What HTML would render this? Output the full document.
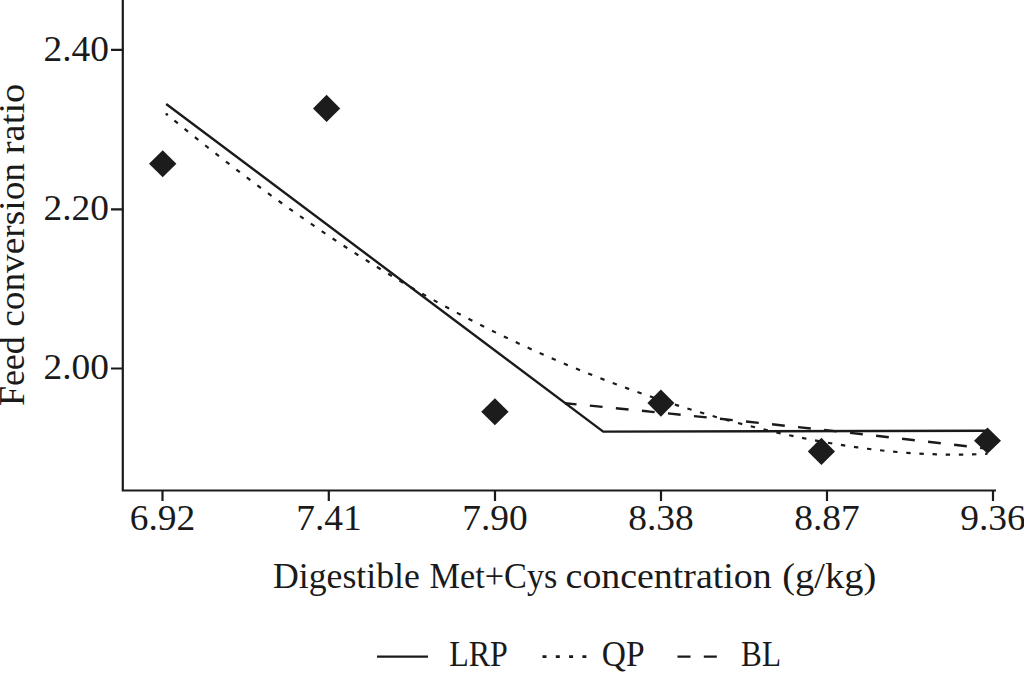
<!DOCTYPE html>
<html><head><meta charset="utf-8">
<style>
html,body{margin:0;padding:0;background:#fff;width:1024px;height:673px;overflow:hidden}
svg{display:block}
text{font-family:"Liberation Serif",serif;fill:#1a1a1a}
</style></head>
<body>
<svg width="1024" height="673" viewBox="0 0 1024 673">
<g stroke="#1a1a1a" stroke-width="2.2" fill="none">
<!-- axes -->
<path d="M122.8,0 V490.5 H996"/>
<!-- y ticks -->
<path d="M111,49.8 H122.8 M111,209.3 H122.8 M111,368.5 H122.8"/>
<!-- x ticks -->
<path d="M162.5,490 V501 M328.8,490 V501 M495,490 V501 M661,490 V501 M827,490 V501 M993,490 V501"/>
<!-- LRP solid -->
<path d="M166.2,104 L603.2,431.6 L987.5,430.8" stroke-width="2.4"/>
<!-- QP dotted -->
<polyline points="167.00,114.56 177.01,122.71 187.01,130.80 197.02,138.81 207.02,146.75 217.03,154.61 227.04,162.38 237.04,170.06 247.05,177.65 257.05,185.15 267.06,192.54 277.07,199.84 287.07,207.04 297.08,214.14 307.09,221.13 317.09,228.01 327.10,234.79 337.10,241.45 347.11,248.01 357.12,254.46 367.12,260.80 377.13,267.03 387.13,273.15 397.14,279.15 407.15,285.05 417.15,290.84 427.16,296.52 437.16,302.09 447.17,307.55 457.18,312.90 467.18,318.15 477.19,323.29 487.20,328.32 497.20,333.25 507.21,338.08 517.21,342.81 527.22,347.43 537.23,351.96 547.23,356.38 557.24,360.71 567.24,364.94 577.25,369.08 587.26,373.12 597.26,377.06 607.27,380.92 617.27,384.68 627.28,388.35 637.29,391.93 647.29,395.42 657.30,398.82 667.30,402.13 677.31,405.35 687.32,408.48 697.32,411.52 707.33,414.48 717.34,417.34 727.34,420.11 737.35,422.80 747.35,425.39 757.36,427.89 767.37,430.29 777.37,432.60 787.38,434.82 797.38,436.93 807.39,438.94 817.40,440.85 827.40,442.65 837.41,444.35 847.41,445.93 857.42,447.39 867.43,448.74 877.43,449.96 887.44,451.05 897.45,452.01 907.45,452.83 917.46,453.50 927.46,454.03 937.47,454.40 947.48,454.61 957.48,454.65 967.49,454.51 977.49,454.19 987.50,453.67" stroke-width="2.2" stroke-dasharray="4.4 8.76" stroke-dashoffset="3.62"/>
<circle cx="166.8" cy="114.3" r="1.3" fill="#1a1a1a" stroke="none"/>
<!-- BL dashed -->
<path d="M565,403.28 Q776.25,423.50 987.5,448.77" stroke-width="2.4" stroke-dasharray="12.8 13.37" stroke-dashoffset="1.23"/>
</g>
<!-- diamonds -->
<g fill="#1c1c1c">
<path d="M162.7,150.2 L176.4,163.8 L162.7,177.3 L149,163.8Z"/>
<path d="M326.6,94.7 L340.2,108.4 L326.6,122.1 L313,108.4Z"/>
<path d="M494.9,398.2 L508.6,411.7 L494.9,425.2 L481.2,411.7Z"/>
<path d="M660.9,389.5 L674.4,403.1 L660.9,416.7 L647.4,403.1Z"/>
<path d="M821.4,437.8 L835,451.4 L821.4,465 L807.8,451.4Z"/>
<path d="M987.5,427.6 L1001,440.7 L987.5,453.8 L974,440.7Z"/>
</g>
<!-- y tick labels -->
<g font-size="36" text-anchor="end">
<text x="109" y="60.5" textLength="65.5" lengthAdjust="spacingAndGlyphs">2.40</text>
<text x="109" y="219.5" textLength="65.5" lengthAdjust="spacingAndGlyphs">2.20</text>
<text x="109" y="378.5" textLength="65.5" lengthAdjust="spacingAndGlyphs">2.00</text>
</g>
<!-- x tick labels -->
<g font-size="36" text-anchor="middle">
<text x="162.5" y="529.5" textLength="65.5" lengthAdjust="spacingAndGlyphs">6.92</text>
<text x="329" y="529.5" textLength="65.5" lengthAdjust="spacingAndGlyphs">7.41</text>
<text x="495" y="529.5" textLength="65.5" lengthAdjust="spacingAndGlyphs">7.90</text>
<text x="661" y="529.5" textLength="65.5" lengthAdjust="spacingAndGlyphs">8.38</text>
<text x="827" y="529.5" textLength="65.5" lengthAdjust="spacingAndGlyphs">8.87</text>
<text x="993" y="529.5" textLength="65.5" lengthAdjust="spacingAndGlyphs">9.36</text>
</g>
<!-- axis titles -->
<g font-size="36.3">
<text x="273" y="588" textLength="146.9" lengthAdjust="spacingAndGlyphs">Digestible</text>
<text x="429.6" y="588" textLength="127.8" lengthAdjust="spacingAndGlyphs">Met+Cys</text>
<text x="565.6" y="588" textLength="206" lengthAdjust="spacingAndGlyphs">concentration</text>
<text x="782.3" y="588" textLength="93.9" lengthAdjust="spacingAndGlyphs">(g/kg)</text>
</g>
<g font-size="35.5" transform="translate(24.4,0) rotate(-90)">
<text x="-406.1" y="0" textLength="69.9" lengthAdjust="spacingAndGlyphs">Feed</text>
<text x="-326.8" y="0" textLength="163.8" lengthAdjust="spacingAndGlyphs">conversion</text>
<text x="-154.2" y="0" textLength="70.5" lengthAdjust="spacingAndGlyphs">ratio</text>
</g>
<!-- legend -->
<g stroke="#1a1a1a" fill="none">
<path d="M377,656.6 H428" stroke-width="2.2"/>
<path d="M542.5,656.6 H587" stroke-width="2.6" stroke-dasharray="4 9.3"/>
<path d="M677.5,656.6 H717" stroke-width="2.4" stroke-dasharray="13 13.3"/>
</g>
<g font-size="35.5">
<text x="449.2" y="666.2" textLength="58.7" lengthAdjust="spacingAndGlyphs">LRP</text>
<text x="601.8" y="666.2" textLength="42.8" lengthAdjust="spacingAndGlyphs">QP</text>
<text x="741.1" y="666.2" textLength="39.9" lengthAdjust="spacingAndGlyphs">BL</text>
</g>
</svg>
</body></html>
